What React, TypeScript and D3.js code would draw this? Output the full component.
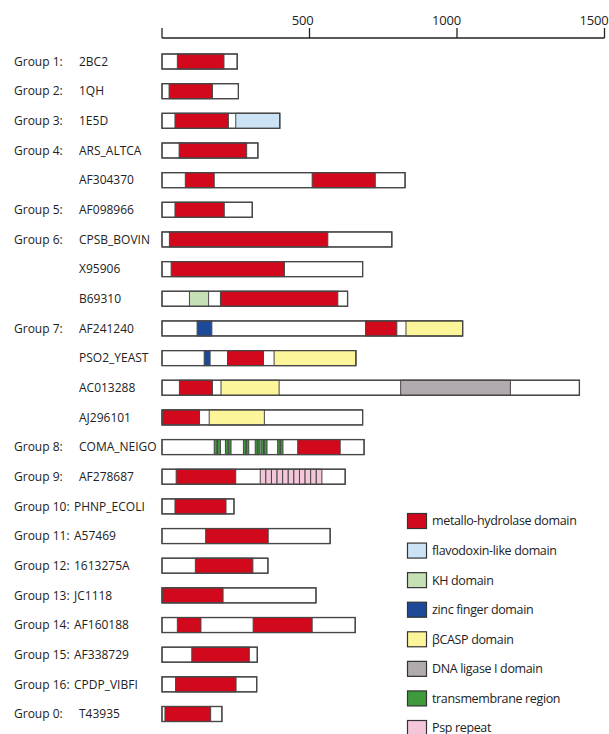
import React from 'react';
import * as d3 from 'd3';

// protein rows, top to bottom
const proteins = [
  '2BC2', '1QH', '1E5D', 'ARS_ALTCA', 'AF304370', 'AF098966', 'CPSB_BOVIN', 'X95906',
  'B69310', 'AF241240', 'PSO2_YEAST', 'AC013288', 'AJ296101', 'COMA_NEIGO', 'AF278687',
  'PHNP_ECOLI', 'A57469', '1613275A', 'JC1118', 'AF160188', 'AF338729', 'CPDP_VIBFI', 'T43935',
];

const groupLabels = [
  'Group 1:', 'Group 2:', 'Group 3:', 'Group 4:', '', 'Group 5:', 'Group 6:', '',
  '', 'Group 7:', '', '', '', 'Group 8:', 'Group 9:',
  'Group 10:', 'Group 11:', 'Group 12:', 'Group 13:', 'Group 14:', 'Group 15:', 'Group 16:', 'Group 0:',
];

// sequence length (residues)
const lengths = [
  255, 259, 399, 325, 824, 306, 779, 680,
  629, 1019, 657, 1415, 680, 685, 621,
  244, 570, 359, 522, 655, 323, 321, 203,
];

// [protein, domain type, start, end]
const domains: [string, string, number, number][] = [
  ['2BC2', 'metallo', 52, 210],
  ['1QH', 'metallo', 24, 171],
  ['1E5D', 'metallo', 44, 225],
  ['1E5D', 'flavo', 250, 399],
  ['ARS_ALTCA', 'metallo', 58, 287],
  ['AF304370', 'metallo', 79, 177],
  ['AF304370', 'metallo', 509, 723],
  ['AF098966', 'metallo', 44, 211],
  ['CPSB_BOVIN', 'metallo', 25, 562],
  ['X95906', 'metallo', 31, 415],
  ['B69310', 'kh', 93, 158],
  ['B69310', 'metallo', 198, 596],
  ['AF241240', 'zinc', 119, 169],
  ['AF241240', 'metallo', 690, 796],
  ['AF241240', 'bcasp', 827, 1019],
  ['PSO2_YEAST', 'zinc', 143, 163],
  ['PSO2_YEAST', 'metallo', 222, 344],
  ['PSO2_YEAST', 'bcasp', 380, 657],
  ['AC013288', 'metallo', 59, 171],
  ['AC013288', 'bcasp', 200, 397],
  ['AC013288', 'ligase', 809, 1181],
  ['AJ296101', 'metallo', 1, 127],
  ['AJ296101', 'bcasp', 160, 347],
  ['COMA_NEIGO', 'tm', 177, 186],
  ['COMA_NEIGO', 'tm', 188, 198],
  ['COMA_NEIGO', 'tm', 215, 224],
  ['COMA_NEIGO', 'tm', 226, 234],
  ['COMA_NEIGO', 'tm', 276, 284],
  ['COMA_NEIGO', 'tm', 286, 294],
  ['COMA_NEIGO', 'tm', 316, 323],
  ['COMA_NEIGO', 'tm', 325, 332],
  ['COMA_NEIGO', 'tm', 336, 344],
  ['COMA_NEIGO', 'tm', 347, 356],
  ['COMA_NEIGO', 'tm', 392, 400],
  ['COMA_NEIGO', 'tm', 402, 410],
  ['COMA_NEIGO', 'metallo', 460, 604],
  ['AF278687', 'metallo', 48, 250],
  ['AF278687', 'psp', 333, 352],
  ['AF278687', 'psp', 352, 371],
  ['AF278687', 'psp', 371, 390],
  ['AF278687', 'psp', 390, 409],
  ['AF278687', 'psp', 409, 428],
  ['AF278687', 'psp', 428, 447],
  ['AF278687', 'psp', 447, 466],
  ['AF278687', 'psp', 466, 485],
  ['AF278687', 'psp', 485, 504],
  ['AF278687', 'psp', 504, 523],
  ['AF278687', 'psp', 523, 542],
  ['PHNP_ECOLI', 'metallo', 44, 217],
  ['A57469', 'metallo', 148, 360],
  ['1613275A', 'metallo', 113, 308],
  ['JC1118', 'metallo', 1, 207],
  ['AF160188', 'metallo', 52, 132],
  ['AF160188', 'metallo', 309, 509],
  ['AF338729', 'metallo', 101, 296],
  ['CPDP_VIBFI', 'metallo', 46, 251],
  ['T43935', 'metallo', 10, 165],
];

const domainTypes = ['metallo', 'flavo', 'kh', 'zinc', 'bcasp', 'ligase', 'tm', 'psp'];
const domainNames = [
  'metallo-hydrolase domain', 'flavodoxin-like domain', 'KH domain', 'zinc finger domain',
  'βCASP domain', 'DNA ligase I domain', 'transmembrane region', 'Psp repeat',
];
const domainColors = ['#d2091d', '#cbe3f4', '#c6e0b5', '#1d4a98', '#fdf59a', '#b1aaae', '#3f9a3c', '#f4c6da'];

const axisTicks = [0, 500, 1000, 1500];

const W = 609;
const H = 734;
const font = '"Open Sans", "DejaVu Sans", sans-serif';

export default function App() {
  const x = d3.scaleLinear().domain([0, 1500]).range([162, 604.5]);
  const y = d3.scalePoint<string>().domain(proteins).range([61.5, 714]);
  const color = d3.scaleOrdinal<string, string>().domain(domainTypes).range(domainColors);
  const legendY = d3.scalePoint<string>().domain(domainTypes).range([521, 728]);
  const barH = 15;
  const axisY = 38;
  const stroke = '#474747';

  return (
    <svg width={W} height={H} style={{ position: 'absolute', left: 0, top: 0, background: '#fff' }}
      fontFamily={font}>
      {/* axis */}
      <line x1={x(0)} x2={x(1500)} y1={axisY} y2={axisY} stroke="#222" strokeWidth={1.3} />
      {axisTicks.map(t => (
        <g key={t}>
          <line x1={x(t)} x2={x(t)} y1={axisY} y2={axisY - 10} stroke="#222" strokeWidth={1.3} />
          {t > 0 && (
            <text x={x(t) + 4} y={axisY - 13} textAnchor="end" fontSize={13} letterSpacing={-0.2} fill="#222">{t}</text>
          )}
        </g>
      ))}

      {/* row labels */}
      {proteins.map((p, i) => (
        <g key={p} fontSize={12} fill="#222">
          {groupLabels[i] && (
            <text x={14} y={y(p)!} dy="0.35em">{groupLabels[i]}</text>
          )}
          <text x={groupLabels[i].length > 8 ? 74 : 79} y={y(p)!} dy="0.35em">{p}</text>
        </g>
      ))}

      {/* protein bars */}
      {proteins.map((p, i) => (
        <rect key={p} x={x(0)} y={y(p)! - barH / 2} width={x(lengths[i]) - x(0)} height={barH}
          fill="#fff" stroke={stroke} strokeWidth={1.2} />
      ))}
      {domains.map((d, i) => (
        <rect key={i} x={x(d[2])} y={y(d[0])! - barH / 2} width={x(d[3]) - x(d[2])} height={barH}
          fill={color(d[1])} stroke={stroke} strokeWidth={1} />
      ))}
      {proteins.map((p, i) => (
        <rect key={'o' + p} x={x(0)} y={y(p)! - barH / 2} width={x(lengths[i]) - x(0)} height={barH}
          fill="none" stroke={stroke} strokeWidth={1.2} />
      ))}

      {/* legend */}
      {domainTypes.map((t, i) => (
        <g key={t}>
          <rect x={407.5} y={legendY(t)! - 7.5} width={19} height={15} fill={color(t)}
            stroke="#333" strokeWidth={1.2} />
          <text x={432} y={legendY(t)!} dy="0.35em" fontSize={12.5} letterSpacing={-0.35} fill="#222">
            {domainNames[i]}
          </text>
        </g>
      ))}
    </svg>
  );
}
